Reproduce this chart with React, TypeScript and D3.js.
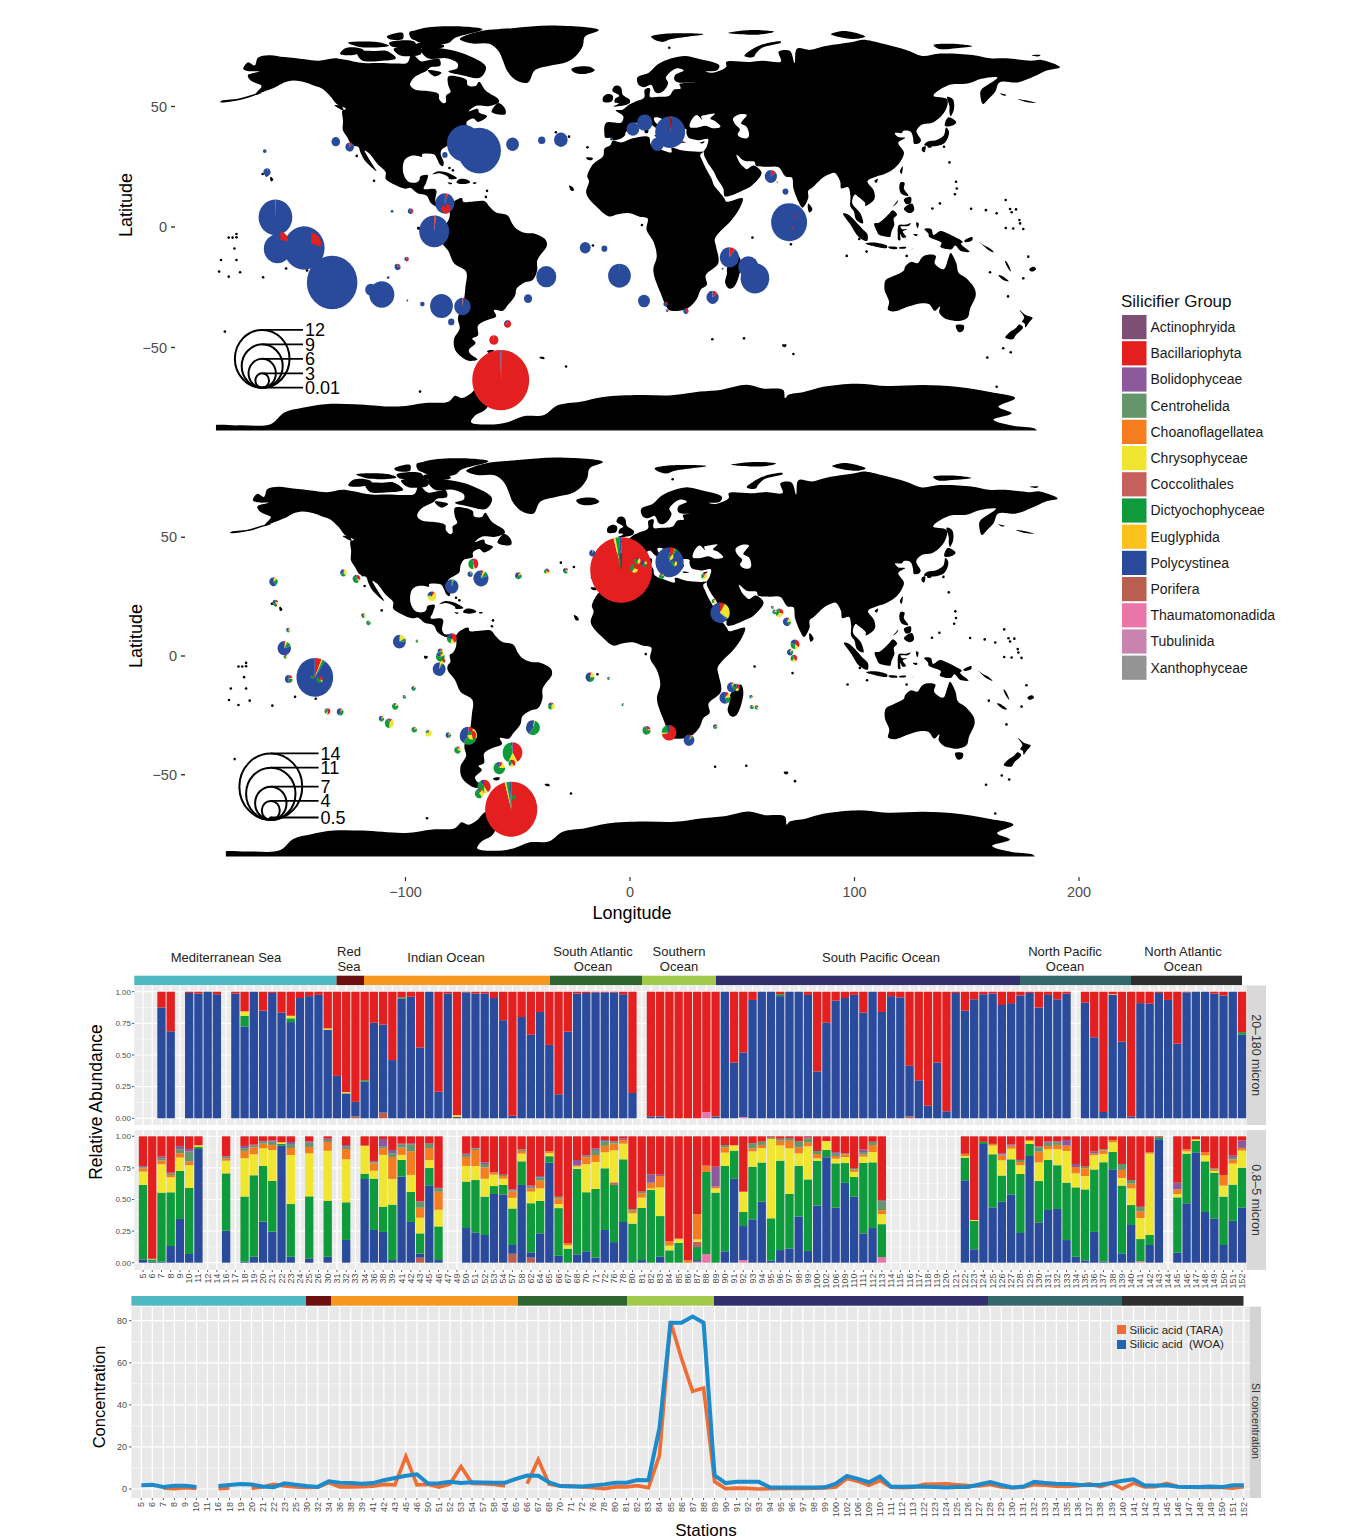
import * as d3 from "d3";

const FONT = '"Liberation Sans", Arial, sans-serif';

// land outlines in [lon, lat]
const landMasses: number[][][] = [
  // North America
  [[-168,65.6],[-166,68.3],[-163,67],[-161.5,70.3],[-156.5,71.3],[-150,70.5],[-141,69.6],[-135,69],[-128,70],[-124,69.5],[-115,68],[-108,68],[-101,67.8],[-96,68.2],[-94,71.8],[-90,68.8],[-85.5,69.5],[-82,69.7],[-81.5,67],[-86,66.2],[-87.5,64.8],[-93,62],[-94.8,59],[-92.5,57],[-88,56.5],[-82.3,55.2],[-82,53],[-80,51.3],[-79,52],[-79,54.5],[-77,56],[-78,58.7],[-78,62.4],[-73.5,62.3],[-70,61],[-69.5,58.8],[-66,58.5],[-64.5,60.3],[-61.5,56.5],[-56,53],[-55.8,51.8],[-60,50.2],[-66,50.2],[-69,48],[-65,49],[-64.5,47.5],[-61,46],[-65,43.6],[-67,45],[-70,43.5],[-70,41.7],[-74,40.5],[-75.5,38],[-76,35.3],[-78,33.9],[-81,32],[-81.3,30],[-80,26.8],[-80.5,25.2],[-81.8,26],[-82.8,28],[-84,30],[-86,30.4],[-89.5,30.2],[-89.5,29.2],[-92,29.6],[-94.8,29.4],[-97.2,27.8],[-97.8,22.5],[-95.5,18.8],[-92,18.5],[-90.7,19.5],[-90.3,21],[-87,21.5],[-87.8,18.3],[-88.8,15.9],[-84,15.8],[-83.2,15],[-83.7,11],[-82.5,9.2],[-80,9.2],[-77.4,8.7],[-77.9,7.2],[-80,7.3],[-81,7.7],[-83,8.3],[-85.7,10],[-87.5,13],[-91.5,14],[-94.5,16.2],[-97,15.9],[-101.5,17.5],[-105.5,20],[-105.5,22.7],[-109,26],[-112.7,30.5],[-114.7,31.7],[-112,27],[-109.5,23.2],[-112,25],[-115,28],[-116.8,31.5],[-117.3,33],[-120.6,34.5],[-122.5,37.5],[-124.3,40.3],[-124.2,44],[-124.5,48.3],[-123,49],[-127,51],[-130,54.5],[-133.5,57.5],[-137,58.7],[-140,59.8],[-146,60.8],[-150,60],[-152,59],[-154,58],[-158,56.5],[-163,54.8],[-160,58.5],[-162,59.5],[-165,61],[-166,63],[-161,64.5],[-166,64.7]],
  // Aleutians
  [[-178,51.8],[-170,52.6],[-163,54.6],[-160,55.5],[-163,55.2],[-170,53.3],[-178,52.2]],
  // South America
  [[-77.4,8.7],[-75.5,10.7],[-72,12],[-71.5,10.5],[-68,10.5],[-62,10.7],[-60,8.5],[-57,6],[-52,4.8],[-50,1.5],[-48,-0.8],[-44,-2.5],[-40,-2.8],[-35.3,-5.3],[-34.8,-8],[-37.5,-11.5],[-39,-14],[-39,-18],[-41,-22],[-44.5,-23],[-48,-25.5],[-48.7,-28.5],[-52,-32.5],[-54,-34.8],[-58,-34.5],[-57,-37],[-62,-39],[-65,-41],[-65,-45],[-67.5,-46.3],[-66,-48],[-69,-51],[-68.5,-52.5],[-65.2,-55],[-69,-55.5],[-72,-54],[-75,-51],[-75.5,-46.5],[-73,-42],[-73.8,-38],[-71.5,-32],[-70.5,-25],[-70.2,-18.5],[-75.5,-15],[-78,-10],[-81.2,-6],[-81.2,-4],[-80,-2.5],[-80.3,0.5],[-78.8,1.5],[-77.5,4],[-77.5,7],[-77.9,7.2]],
  // Greenland
  [[-73,78],[-65,81],[-50,82.5],[-32,83.6],[-12,81.7],[-18,79],[-19,75],[-22,71],[-26,68.5],[-33,67],[-40,65],[-43,60],[-48,60.8],[-52,64.5],[-54,69],[-56,73],[-60,76],[-68,76.2]],
  // Canadian arctic
  [[-90,73.8],[-80,74],[-70,71.5],[-61.5,66.5],[-64,62],[-72,63],[-78,64.5],[-74,66],[-74,68],[-79,70],[-87,70]],
  [[-118,72.5],[-110,73],[-105,73],[-101,70],[-108,68.9],[-116,69.2]],
  [[-90,76.3],[-78,76.3],[-75,78.5],[-63,82],[-72,83.2],[-90,82.3],[-95,80]],
  [[-125.5,71.8],[-123,74.3],[-116,74],[-115,73],[-119,71.5]],
  [[-92,76],[-80,75.5],[-80,74.7],[-92,74.6]],
  [[-122,76.5],[-108,76.6],[-104,75.2],[-116,74.6]],
  [[-104,76.5],[-93,77],[-92,74.7],[-103,75]],
  [[-87,65],[-81,64],[-84,62.5]],
  [[-59,47.7],[-53,46.8],[-53,49],[-56,51.5]],
  [[-95,81],[-87,80.5],[-86,78],[-94,78]],
  [[-105,79],[-98,80.5],[-98,78],[-104,78]],
  [[-102,73.9],[-90,74.2],[-90,71.8],[-99,71.2]],
  [[-128,50.5],[-124,48.4],[-125,50.3]],
  // Africa
  [[-5.9,35.8],[-2,35.1],[3,36.8],[10,37.3],[11,34],[15,32.3],[20,31],[20,32.8],[25,31.7],[32,31.2],[34.2,31.3],[32.6,29.9],[33.5,27.5],[35.5,23.5],[37.3,20.5],[38.8,17],[41,14.5],[43.2,11.8],[44,10.5],[51.2,11.9],[50,8],[46,2.5],[41.5,-1.7],[39,-5],[39.5,-8],[40.5,-15],[35,-20],[35.5,-24],[32.8,-26],[31,-30],[27,-33.8],[20,-34.8],[18.4,-34],[15,-27],[12,-18],[13.5,-12],[12,-6],[9,-1],[9.5,3.5],[6,4.3],[1,5.8],[-4,5.2],[-7.5,4.4],[-13,8.5],[-16.8,12.5],[-17.5,14.7],[-16.2,19],[-17,21],[-14.5,26],[-10,29.5],[-9.5,32.5],[-6.8,34]],
  // Eurasia
  [[-9,37],[-9.5,38.7],[-8.8,43.2],[-2,43.4],[-1.2,46],[-4.5,48.4],[-1.5,48.7],[1.6,50.9],[4,52],[8,53.7],[8.2,57],[10.5,57.5],[10.5,54],[14,54],[19,54.5],[21,57],[24,57.5],[23.5,59.3],[30,60],[23,60],[21.3,61],[21.5,63],[25.3,65],[22,65.8],[17.5,62],[18.5,59.8],[16.5,56.5],[14.3,55.5],[12.8,56],[11,59],[8,58],[5.5,59],[5,62],[10,64],[14,67.5],[20,70],[26,71],[31,70],[41,67],[40,65],[35,64.5],[38,64],[44,66.5],[44,68.5],[54,68.5],[60,69],[68,68.7],[67,72.7],[72,73],[74,68],[75,74],[81,73.5],[87,75],[100,76.9],[104,77.7],[113,76],[123,73.4],[130,71],[138,72],[152,71.4],[160,70],[167,70],[178,69],[182.5,69.3],[190.5,66.3],[185,65],[179,62.4],[172,60],[164,60],[162,56],[159,53],[156.7,51],[155.5,55.5],[156,57],[163,62],[156,61.5],[150,59.5],[142,59],[135,54.5],[141,53],[140,48],[135,43.5],[130,42.5],[127.5,39.8],[129.5,36],[129,35],[126.5,34.5],[126,37],[125,39.5],[122,40],[121,39],[118,39],[119.5,37.3],[122.5,37],[119.5,35],[122,31],[121,28],[118,24.5],[113.5,22],[110,21],[106,19],[108.8,15],[109,11.5],[105,8.7],[105,10],[102,12.5],[100.5,13.5],[99.3,10],[103,5.5],[104,1.5],[101,3],[100,6.5],[98.5,8.5],[98.5,13],[97.5,16.5],[94.5,16],[94,19],[91.5,22.5],[89,21.8],[86.5,20.5],[82,16.5],[80,15],[80,12],[77.5,8],[76,10],[73.5,16],[72.8,20.5],[70,21],[67,24.8],[62,25],[57,25.5],[56.5,27],[52,27.5],[48.5,30],[50,26.5],[51.5,25],[53,24],[56,25.5],[59.5,22.5],[55,17],[52,15.5],[45,12.8],[43.3,12.8],[42.7,16],[40,20],[38.5,23],[36,26.5],[34.9,28.5],[34.4,29.5],[34.2,31.3],[35.5,33.5],[36,36.5],[32,36],[30,36.3],[27.5,37],[26.5,39],[26.5,40.5],[24,40.8],[23,40.3],[24,38],[22.8,36.5],[21.3,37.5],[19.5,41],[19,42.5],[14,45.5],[12.3,45.3],[12.5,44],[14,42.5],[16,41.7],[18.5,40.2],[17,40.4],[16.5,39.5],[16,38],[15.7,40],[12.5,41.5],[10.5,43],[8.8,44.4],[6,43.1],[3.3,43.2],[3,41.8],[0,39.5],[-0.5,38],[-2,36.8],[-5.5,36],[-7,37]],
  // north atlantic and arctic islands
  [[-24,65.5],[-22,66.4],[-16,66.5],[-13.7,65],[-18,63.5],[-22.5,64]],
  [[-5.5,50],[1.4,51.2],[1.7,52.7],[-1.5,55],[-2,57.5],[-3.2,58.6],[-5,58.5],[-6,56.5],[-3,54.5],[-4.8,53.2],[-5,51.7],[-3,51.3]],
  [[-10,52],[-6.2,52.2],[-5.8,54.5],[-8,55.2],[-10,54]],
  [[11,79],[15,80],[27,80.4],[34,80],[20,78],[16,76.8],[12,78]],
  [[45,80.5],[55,81.7],[65,81],[58,79.8]],
  [[52,71],[55,73.5],[60,75.8],[68,77],[68,76.5],[60,74.5],[57,72],[56,70.5]],
  [[90,80],[96,81.3],[105,79],[100,78]],
  [[135,75.5],[143,76],[152,75],[145,74.2],[137,74]],
  [[178,71.3],[182,71.4],[181,70.8]],
  [[141,54],[143.5,53],[144,49],[142.5,46],[142,47.5],[142,50]],
  // east asia and the indonesian arc
  [[140,42],[141.5,45.5],[145,43.5],[143,42]],
  [[130.9,34],[135,33.5],[140,35],[141.8,39.5],[140.5,41.3],[139.5,38],[136,36],[132.5,35.5]],
  [[130,33],[131.5,33.5],[131,31],[130,31.5]],
  [[132.5,34],[134.5,34.2],[134,33],[132.5,33]],
  [[120.2,23],[121.5,25.2],[121,22]],
  [[109,19],[110.5,20],[110,18.3]],
  [[120.5,18.5],[122.3,18.3],[122,16],[124,13],[121,13.7],[120,16]],
  [[122,7.5],[125.5,9.7],[126.5,7],[124.5,5.8]],
  [[122,11.5],[125,12.5],[125,10],[123,9.5]],
  [[117.2,8.5],[119.5,11.2],[119,10]],
  [[95.3,5.6],[97.5,5.2],[104,-1],[106,-3],[105.8,-5.8],[102,-4],[98.5,1]],
  [[105.2,-6.8],[108.5,-6.4],[114.5,-7.7],[114.5,-8.7],[108,-7.8]],
  [[115,-8.3],[119,-8.4],[119,-9],[116,-9]],
  [[119.8,-8.5],[123,-8.3],[122.8,-8.8],[120,-8.9]],
  [[123.6,-10.2],[127,-8.4],[125,-9.5]],
  [[109,1.5],[111,1.8],[113,3.2],[115.5,5.5],[117,7],[119,5.2],[117.5,3.5],[117.8,1],[116.5,-2],[116,-4],[114.5,-4],[111,-3.2],[110,-1.5]],
  [[119.8,0.8],[123,1],[125,1.6],[124,0.4],[120.5,0.2],[121.2,-0.9],[123.3,-0.9],[121.5,-1.9],[123,-4.2],[121.5,-4.5],[120.4,-2.9],[120.4,-5.5],[119.5,-5.4],[119.3,-3.3]],
  [[127.5,2],[128.5,1.5],[128,-0.5],[127.5,0.5]],
  [[126,-3],[128,-3],[127.5,-3.8]],
  [[131,-0.8],[134,-0.8],[135,-3.3],[138,-1.7],[141,-2.6],[145,-4.5],[147.8,-6.2],[147,-7],[150.8,-10.3],[147,-10],[144.5,-7.7],[143,-9.2],[138,-8.2],[138.5,-6.5],[133,-4],[132.8,-2.8]],
  [[148.5,-5.7],[152,-4.2],[152,-5.5],[149,-6.3]],
  [[155,-6],[157,-7.5],[160,-9],[161.5,-10.5],[159,-9.5],[156,-7]],
  [[166.4,-14],[167.5,-15],[169,-18.5],[168,-17.5],[166.8,-15.5]],
  [[163.5,-20],[165,-20.2],[168,-22.5],[166,-22.2]],
  [[177,-17.5],[179,-16.5],[180,-17.5],[178,-18.5]],
  [[164,55.5],[167,54.8],[166,54.5]],
  [[172,53],[176,52.5],[180,51.5],[176,51.8]],
  // indian ocean
  [[49.3,-12],[50.5,-15.5],[47.5,-24.8],[45.2,-25.5],[43.5,-23],[44.3,-19.5],[44.5,-16.5]],
  [[80,9.7],[81.8,7.3],[80.5,6],[79.8,8]],
  [[68.5,-48.8],[70.5,-48.8],[70,-49.8],[68.8,-49.6]],
  // Australia and New Zealand
  [[113.5,-26],[114,-22],[117,-20.5],[122,-18],[122.5,-16.5],[125,-14.5],[128,-15],[130,-12.5],[132.5,-11.5],[136,-12],[135.5,-15],[139.5,-17.5],[141.5,-13],[142.5,-10.8],[145,-15],[146,-19],[149,-21],[153,-25.5],[153.5,-28.5],[151,-34],[150,-37.5],[146,-39],[143.5,-38.8],[140,-38],[137.5,-35.5],[137.8,-33],[135.5,-34.8],[133,-32],[129,-31.7],[124,-33],[118,-35],[115,-34.3],[115.5,-31]],
  [[144.8,-40.8],[148.3,-40.9],[148,-43],[146,-43.6]],
  [[172.7,-34.4],[175.5,-36.5],[178.5,-37.7],[177,-39.5],[175.3,-41.6],[175,-40],[173.8,-39.3],[174.8,-37.5]],
  [[172.7,-40.5],[174.3,-41.7],[171,-45],[170,-46.5],[166.5,-46],[168,-44],[171,-42]],
  // caribbean, atlantic and pacific small islands
  [[-85,21.8],[-82.5,23.1],[-78,22.4],[-74.2,20.2],[-77.7,19.9],[-78,20.7],[-82,22.3]],
  [[-74.4,18.5],[-73,19.9],[-69.9,19.7],[-68.4,18.6],[-71.5,17.8]],
  [[-78.3,18.4],[-76.3,18.2],[-77,17.7]],
  [[-67.2,18.4],[-65.6,18.4],[-65.8,18],[-67.2,18]],
  [[-156,20.8],[-154.8,19.6],[-155.7,18.9],[-156.2,19.7]],
  [[-61,-51.5],[-58,-51.2],[-58.5,-52.2],[-60.5,-52.2]],
  [[-38,-54],[-36,-54],[-35.8,-54.8],[-37.5,-54.6]],
  [[-91.7,0],[-90,-0.3],[-90.5,-1],[-91.5,-1]],
  [[-25,17.2],[-23.5,16.6],[-22.8,15.2],[-24,15]],
  [[-17.5,28.8],[-14.5,28.5],[-15,27.8],[-17,28]],
  [[12.5,38],[15.6,38.2],[15.1,36.7]],
  [[8.2,41],[9.7,41],[9.6,39.1],[8.4,39]],
  [[23.5,35.5],[26.3,35.2],[24,35]],
  [[32.5,35],[34.5,35.6],[33.8,34.7]],
  // Antarctica, cut flat along the bottom of the panel
  [[-182,-86],[-182,-82.8],[-170,-82.3],[-156,-81.8],[-150,-77],[-142,-75],[-132,-73.5],[-119,-73.5],[-100,-74.5],[-88,-73],[-78,-72.5],[-75,-70],[-72,-71],[-68,-69],[-65,-66],[-58,-63.3],[-60,-65],[-62,-67],[-62,-70],[-60,-73],[-62,-76],[-66,-78],[-68,-81],[-60,-82],[-52,-81],[-45,-78.5],[-36,-78],[-30,-74],[-20,-72.5],[-10,-70.5],[6,-69.7],[20,-69.8],[32.5,-68.3],[42,-67.5],[53,-65.5],[60,-67],[69,-67.6],[69.8,-71],[71.2,-69.7],[78,-68.5],[86.6,-66.3],[101,-65],[115,-66],[130.5,-65.6],[145,-66.3],[159.8,-68.5],[170.8,-71],[163.5,-74.6],[169.3,-77.3],[161.3,-80],[170,-82.5],[180,-84],[180,-86]],
];

const inlandSeas: number[][][] = [
  [[28,41.5],[31,41.2],[35,42],[38,41],[41.5,41.6],[39,44],[37,45],[39,47],[35,46.5],[33,46],[33.5,44.5],[31,46.5],[28.5,44]],
  [[47,45],[50,46.8],[53,46.5],[51.5,44.5],[50.5,43],[53,41.5],[54,38],[53,36.8],[50,37.3],[49,38.5],[50,40.5],[48,42.5]],
];

const tinyIslands: number[][] = [
  [19,74.4],[142,26.8],[139.6,33.3],[144.9,18.8],[145.2,16],[144.4,13.6],[134.5,7.7],[137.8,9.8],[151.5,7.6],[158,7],[162.7,5.7],[166.7,11.2],[168.6,7.5],[171.2,7.3],[169.3,6.1],[166.7,-0.4],[170,-0.6],[174.4,-0.8],[172.7,2.9],[173,1.5],[176.6,-12.3],[174.4,-21.3],[159.8,-18.8],[167.7,-28.8],[165.6,-50.3],[168.9,-52],[158.6,-54.2],[96.9,-12],[105.6,-10.2],[123.2,-12],[102.4,-5],[55.5,-4.4],[72.4,-7.2],[37.9,-46.6],[51.8,-46.2],[73.5,-52.7],[162.7,-66.3],
  [-176.1,-43.4],[-174.4,-4.4],[-171,-2.9],[-171.9,-8.9],[-171,-13.7],[-177.8,-13.7],[-178.6,-18.5],[-174.4,-20.6],[-169.4,-18.8],[-159.3,-20.9],[-149.2,-17.2],[-140,-18],[-172.7,-4.4],[-171,-4.3],[-90.4,-68.3],[-26.3,-57.9],[-14.5,-7.7],[7,0.8],[-16.9,33.1],[-110.6,19.2],[-118.2,29.5],[-30.8,39.3],[-25,37.5],[-157.8,21.4],[-159.5,22],[-61,15],[-61.5,12.5],[-77.5,24.5],[-76,23.5],[-119,34],
];

// lon, lat, radius, Bacillariophyta share (the rest is Polycystinea)
const topPies: number[][] = [
  [-127.4,35.4,1.9,0],[-121.3,33.2,1.9,0.1],[-158.6,31.5,0.8,0],[-157.6,22.8,1.6,0.03],[-79.5,29.9,1.2,0],[-71,34.7,7.6,0],[-64.4,31.7,9.5,0],[-49.8,34.3,2.8,0],[-37,36,1.6,0],[-28.6,36.2,3,0],
  [3,40.7,2.8,0],[8.2,43.3,3.4,0],[19.4,39.4,6.6,0.02],[13.8,34.3,2.8,0],[-6.4,36.5,0.6,0],[63.6,21,2.7,0.15],[66.4,18.7,0.3,1],[70,14.7,1.3,0],[71.6,2,7.9,0],[73.9,4.7,0.6,0.7],[73,-0.5,0.6,0.7],
  [45.4,-12.6,4.2,0.1],[42.4,-17.3,0.4,0],[53.7,-16.5,4.4,0],[56.6,-21.3,6.3,0],[38,-29.2,2.7,0.14],[7.9,-30.7,2.6,0],[17.4,-32,1,0.3],[18.1,-34.7,0.6,0.7],[26.3,-34.9,1.2,0.4],
  [-154,4,7.4,0.005],[-153,-9,6,0],[-141.3,-8.7,9,0],[-151.8,-5.4,3.4,0.28],[-138.3,-6.8,4.4,0.3],[-129,-23,11.1,0],[-107.2,-28,5.5,0],[-112,-26,2.5,0],[-102.7,6.5,0.6,0],[-94.6,6.6,1.2,0.4],[-79.5,9.8,4.2,0.05],[-79,7.6,2,0.9],[-84.2,-1.8,6.6,0.02],
  [-96.3,-13.3,1,0.6],[-100.3,-16.6,1.3,0.2],[-104.4,-21,0.6,0],[-96,-30.5,0.4,0],[-89.4,-32,1,0],[-81,-32.8,5,0],[-71.8,-33,3.6,0.05],[-76.7,-39.4,1.4,0],[-35,-20.6,4.4,0],[-43,-29.7,1.8,0],[-52,-40.2,1.6,0.8],[-58,-46.9,2,0.98],[-54.8,-63.5,12.5,0.995],
  [-17.9,-8.6,2.4,0],[-9.5,-9,1.3,0],[-2.9,-20.2,5,0.002],
];

// lon, lat, radius, then shares clockwise from 12: Bacillariophyta, Chrysophyceae, Dictyochophyceae, Polycystinea
const lowPies: number[][] = [
  [-158.8,31.3,1.9,0.05,0.1,0.25,0.6],[-127.6,35,1.5,0.05,0.35,0.3,0.3],[-121.8,32.5,1.7,0.3,0.1,0.5,0.1],[-158,22.4,1.3,0.2,0.2,0.3,0.3],[-152.2,10.9,1,0.1,0.3,0.3,0.3],[-154,3.3,3,0.03,0.05,0.12,0.8],[-153.5,-0.3,0.8,0.2,0.2,0.5,0.1],[-140.4,-9,8.2,0.06,0.01,0.02,0.91],[-141.3,-8.7,1,0.3,0,0.6,0.1],[-138.2,-9.9,1.4,0.3,0.1,0.5,0.1],[-152,-9.7,1.7,0.2,0.05,0.25,0.5],
  [-134.8,-23.3,1.3,0.5,0.1,0.3,0.1],[-129.1,-23.5,1.5,0.1,0.05,0.4,0.45],[-118.7,17,1,0.1,0.3,0.3,0.3],[-116.5,14,1,0.05,0.1,0.7,0.15],[-102.7,6.1,2.9,0.02,0.15,0.08,0.75],[-94.9,6.3,0.6,0.2,0.1,0.6,0.1],[-96.4,-13.6,1,0.1,0.1,0.4,0.4],[-100.5,-17.2,0.8,0.1,0.1,0.6,0.2],[-104.6,-21.2,1.4,0.05,0.15,0.7,0.1],[-110.7,-26.4,1.2,0.1,0.1,0.4,0.4],[-107.2,-28.3,2,0.1,0.4,0.45,0.05],
  [-96.1,-31,1.2,0.1,0.1,0.75,0.05],[-89.8,-32.5,1.4,0.05,0.75,0.15,0.05],[-80.9,-33.3,1.2,0.1,0.1,0.3,0.5],[-72,-33.6,3.8,0.1,0.2,0.3,0.4],[-70.5,-33.3,1.9,0.45,0.3,0.2,0.05],[-76.8,-39.6,1.5,0.1,0.2,0.65,0.05],[-88.2,25.2,2,0.1,0.65,0.05,0.2],[-79.4,29.3,3,0.01,0.01,0.03,0.95],[-69.8,38.8,2.2,0.45,0.05,0.45,0.05],[-71.2,34.5,1.2,0.05,0.05,0.2,0.7],[-66.4,32.7,3.4,0.05,0.05,0.1,0.8],
  [-49.7,33.8,1.5,0.1,0.1,0.4,0.4],[-37.1,35.6,1.2,0.3,0.3,0.3,0.1],[-28.7,35.9,1.2,0.2,0.15,0.35,0.3],[-16.8,43.3,1.4,0.02,0.02,0.06,0.9],[-3.9,36.2,13.8,0.96,0.01,0.02,0.01],[3.3,40.1,1.4,0.1,0.4,0.4,0.1],[6.2,39,1.4,0.1,0.2,0.3,0.4],[1.9,36.9,1.8,0.3,0.3,0.4,0],[17.6,39.5,6.3,0.06,0.01,0.03,0.9],[18.1,41.8,1.2,0.1,0.5,0.3,0.1],[19.7,39,1.3,0.1,0.4,0.45,0.05],[14.1,33.6,1.2,0.1,0.1,0.7,0.1],[33,33.6,1.3,0.1,0.5,0.35,0.05],[37.4,23.1,1,0.1,0.45,0.4,0.05],[40.1,18.2,4.3,0.08,0.27,0.02,0.63],
  [63.5,20.5,0.7,0.1,0.2,0.4,0.3],[64.4,18.6,1,0.1,0.2,0.5,0.2],[66.5,18.2,1.8,0.3,0.3,0.35,0.05],[69.9,14.4,1.8,0.1,0.15,0.15,0.6],[73.5,4.9,2,0.35,0.15,0.3,0.2],[71.3,1.6,1.4,0.05,0.1,0.2,0.65],[73,-1,1.5,0.4,0.2,0.35,0.05],[45.3,-13.2,2.1,0.05,0.05,0.15,0.75],[47.5,-13.2,1.5,0.35,0.2,0.25,0.2],[42.3,-17.6,2.5,0.12,0.12,0.2,0.56],[53.9,-17.2,0.8,0.3,0.2,0.3,0.2],[54.3,-21.5,0.9,0.1,0.1,0.6,0.2],[56.4,-21.6,0.9,0.2,0.2,0.5,0.1],[38,-29.7,1,0.2,0.1,0.35,0.35],[7.4,-31.3,1.8,0.2,0.05,0.7,0.05],[17.4,-32.3,3.3,0.72,0.03,0.2,0.05],[26.3,-35.4,2.4,0.08,0.02,0.05,0.85],
  [-79.4,7.4,2.2,0.4,0.15,0.25,0.2],[-84.5,-0.3,2,0.1,0.1,0.6,0.2],[-85,-5.5,2.9,0.03,0.03,0.04,0.9],[-83.6,-2,1.3,0.4,0.3,0.3,0],[-84.5,2,1.2,0.2,0.1,0.4,0.3],[-17.8,-8.9,2,0.05,0.2,0.25,0.5],[-9.5,-9.4,0.7,0.2,0.2,0.5,0.1],[-3.2,-20.5,0.6,0.2,0.2,0.5,0.1],[-35,-21.1,1.5,0.1,0.4,0.3,0.2],[-43.2,-30.2,3.1,0.03,0.02,0.55,0.4],[-52.3,-40.7,4.4,0.42,0.15,0.4,0.03],[-52.6,-45.2,1.5,0.4,0.2,0.3,0.1],[-58.2,-47.2,2.6,0.1,0.15,0.65,0.1],[-65,-55,2.9,0.4,0.1,0.4,0.1],[-67.1,-57.9,2,0.1,0.3,0.55,0.05],[-52.9,-64.5,11.6,0.96,0.01,0.02,0.01],[-50.9,-60,1.7,0.7,0,0.3,0],
];

const topSizeLegend = [12, 9, 6, 3, 0.01];
const lowSizeLegend = [14, 11, 7, 4, 0.5];

const groups = ["Actinophryida","Bacillariophyta","Bolidophyceae","Centrohelida","Choanoflagellatea","Chrysophyceae","Coccolithales","Dictyochophyceae","Euglyphida","Polycystinea","Porifera","Thaumatomonadida","Tubulinida","Xanthophyceae"];
const groupColors = ["#7d4f74","#e41f20","#8c5a9c","#65956a","#f57d1f","#f0e632","#c6605c","#0f9b3c","#fdc11d","#2a4b9c","#b95f50","#ea75a8","#c884ae","#949494"];

const stations = [
  "5","6","7","8","9","10","11","12","14","16",
  "17","18","19","20","21","22","23","24","25","26",
  "30","31","32","33","34","36","38","39","41","42",
  "43","45","46","47","49","50","51","52","53","54",
  "57","58","62","64","65","66","67","68","70","71",
  "72","76","78","80","81","82","83","84","85","86",
  "87","88","89","90","91","92","93","94","95","96",
  "97","98","99","100","102","106","109","110","111","112",
  "113","114","115","116","117","118","119","120","121","122",
  "123","124","125","126","127","128","129","130","131","132",
  "133","134","135","136","137","138","139","140","141","142",
  "143","144","145","146","147","148","149","150","151","152",
];

// 20-180 micron, null = no sample. Bacillariophyta fills what is left.
const polyA: (number | null)[] = [
  null,null,0.876,0.687,null,0.99,0.985,1,0.98,null,
  0.985,0.725,1,0.85,0.99,0.835,0.76,0.95,0.965,0.975,
  0.7,0.335,0.197,0.115,0.29,0.755,0.695,0.46,0.945,0.96,
  0.56,1,0.21,0.985,0.01,0.995,0.985,0.985,0.95,0.775,
  0.02,0.8,0.66,0.84,0.58,0.19,0.685,0.985,0.99,0.995,
  0.995,0.995,0.98,0.2,null,0.015,0.015,0,0,0,
  0,0,0.01,1,0.44,0.51,0.935,1,1,0.965,
  1,1,0.975,0.37,0.755,0.93,0.95,0.975,0.835,1,
  0.84,0.965,0.955,0.4,0.3,0.1,0.44,0.055,0.99,0.85,
  0.94,0.98,0.985,0.895,0.91,0.97,0.99,0.875,0.975,0.94,
  0.985,null,0.915,0.64,0.05,0.975,0.605,0.015,0.91,0.905,
  0.99,0.935,0.59,0.995,1,1,0.985,0.97,1,0.66,
];
const dictA: Record<string, number> = { 18: 0.085, 23: 0.03, 34: 0.01, 41: 0.01, 89: 0.005, 96: 0.015, 152: 0.02 };
const chrysA: Record<string, number> = { 18: 0.035, 23: 0.02, 30: 0.01, 32: 0.01, 49: 0.015, 138: 0.005 };
const poriferaA: Record<string, number> = { 33: 0.015, 38: 0.045, 116: 0.015 };
const thaumA: Record<string, number> = { 88: 0.05, 92: 0.01 };

// 0.8-5 micron
const polyB = [
  0.026,0.008,0.008,0.132,0.346,0.069,0.897,0,0,0.253,
  0,0.008,0.047,0.325,0.245,0.926,0.047,0,0.034,0,
  0.047,0,0.18,0,0.662,0.259,0.243,0.021,0.681,0.322,
  0.032,0.612,0.021,0,0,0.274,0.237,0.219,0.544,0.538,
  0.069,0.615,0.042,0.232,0.792,0.055,0,0.066,0.09,0.04,
  0.259,0.166,0.322,0,0.021,0,0.047,0,0,0,
  0.013,0,0,0.09,0.66,0.269,0.343,0.483,0.016,0.1,
  0.111,0.364,0.092,0.451,0.834,0.435,0.63,0.522,0.232,0.274,
  0,0,0,0,0,0,0,0,0,0.652,
  0.106,0.939,0.438,0.483,0.538,0.235,0.844,0.319,0.417,0.425,
  0.179,0.047,0.018,0.243,0.01,0.739,0.074,0.298,0,0.14,
  0.976,0,0.079,0.47,0.873,0.401,0.348,0.14,0.33,0.435,
];
const dictB = [
  0.59,0.018,0.546,0.425,0.38,0.522,0.016,0,0,0.454,
  0,0.515,0.644,0.44,0.4,0.013,0.417,0,0.49,0,
  0.443,0,0.298,0,0.042,0.406,0.2,0.438,0.132,0.237,
  0.16,0.137,0.266,0,0,0.367,0.417,0.303,0.063,0.077,
  0.288,0.187,0.388,0.256,0.05,0.377,0.111,0.675,0.467,0.544,
  0.488,0.462,0.496,0.309,0.412,0.575,0.322,0.098,0.158,0,
  0.103,0.649,0.554,0.675,0.222,0.111,0.417,0.309,0.335,0.707,
  0.427,0.4,0.565,0.354,0.058,0.351,0.156,0.156,0.557,0.52,
  0.26,0,0,0,0,0,0,0,0,0.179,
  0.224,0.018,0.42,0.208,0.28,0.467,0.095,0.327,0.396,0.346,
  0.454,0.549,0.562,0.493,0.784,0.137,0.536,0.158,0.174,0.079,
  0.016,0,0.438,0.393,0.09,0.401,0.364,0.383,0.285,0.317,
];
const chrysB = [
  0.105,0.005,0.224,0.119,0.106,0.18,0.013,0,0,0.1,
  0,0.303,0.166,0.14,0.245,0.013,0.388,0,0.34,0,
  0.396,0,0.34,0,0.222,0.063,0.409,0.203,0.04,0.135,
  0.124,0.063,0.132,0,0,0.124,0.111,0.142,0.09,0.05,
  0.084,0.061,0.092,0.1,0.024,0.032,0.026,0.018,0.222,0.214,
  0.127,0.259,0.124,0.082,0.082,0.013,0.227,0.037,0.029,0,
  0.018,0,0.034,0.106,0.042,0.161,0.121,0.113,0.628,0.121,
  0.356,0.1,0.261,0.021,0.071,0.037,0.047,0.04,0.05,0.082,
  0.079,0,0,0,0,0,0,0,0,0.013,
  0.008,0,0.069,0.121,0.084,0.069,0.024,0.148,0.084,0.127,
  0.251,0.111,0.106,0.113,0.066,0.077,0.061,0.132,0.164,0.644,
  0,0,0.026,0.018,0.013,0.047,0.013,0.087,0.166,0.135,
];
const choanoB = [
  0.026,0,0.03,0.018,0.034,0.029,0,0,0,0.018,
  0,0.058,0.055,0.037,0.04,0,0.055,0,0.05,0,
  0.069,0,0.082,0,0,0.058,0.053,0.174,0.058,0.187,
  0.079,0.095,0.142,0,0,0.071,0.127,0.09,0.016,0.021,
  0.05,0.021,0.026,0.061,0.016,0.045,0.016,0.01,0.055,0.055,
  0.05,0.055,0.029,0.021,0.034,0.045,0.09,0.034,0.005,0.021,
  0.2,0.05,0.013,0.042,0,0,0.024,0.026,0,0.037,
  0.058,0.047,0.032,0.034,0,0.021,0.021,0.021,0.018,0.055,
  0.032,0,0,0,0,0,0,0,0,0.018,
  0,0,0.013,0.04,0.024,0.026,0.008,0.084,0.026,0.034,
  0.042,0.05,0.061,0.013,0.026,0.018,0.063,0.037,0.053,0.01,
  0,0,0.037,0.016,0,0.026,0.013,0.084,0.032,0.021,
];
const centroB = [
  0.008,0,0.018,0.013,0.032,0.079,0,0,0,0.013,
  0,0.021,0.013,0.016,0.026,0,0.032,0,0.034,0,
  0.016,0,0.018,0,0,0.008,0.013,0.029,0.026,0.055,
  0.047,0.032,0.026,0,0,0.016,0.013,0.026,0.003,0.01,
  0.008,0.013,0.013,0.026,0,0.013,0,0,0.01,0.04,
  0.037,0.018,0,0.013,0.013,0,0,0,0,0,
  0,0,0,0.018,0,0,0.04,0.026,0.01,0.016,
  0.021,0.047,0.032,0.024,0,0.018,0.005,0.01,0.018,0.026,
  0.071,0,0,0,0,0,0,0,0,0,
  0,0,0,0.005,0,0.016,0,0.034,0.026,0.021,
  0,0,0.013,0,0.01,0,0.047,0.029,0.034,0,
  0,0,0,0,0,0,0.008,0,0.013,0,
];
const bolidoB = [
  0.008,0,0.013,0.005,0.026,0.021,0,0,0,0.005,
  0,0.018,0.008,0.005,0.01,0,0.016,0,0.01,0,
  0.01,0,0.013,0,0,0.008,0.06,0.026,0.005,0.005,
  0.005,0.005,0.005,0,0,0.01,0.003,0.013,0,0,
  0.008,0,0.008,0.01,0,0,0,0.042,0.005,0.013,
  0.01,0,0.013,0,0,0.066,0.01,0,0,0,
  0,0,0.158,0,0,0,0,0,0,0,
  0,0,0.005,0,0,0.013,0.003,0,0.021,0,
  0.008,0,0,0,0,0,0,0,0,0,
  0,0,0,0.01,0.01,0,0,0.008,0.01,0.008,
  0.045,0.024,0,0.016,0,0,0,0,0,0,
  0,0,0.053,0,0,0,0,0,0.018,0.058,
];
const bacillB = [
  0.237,0.97,0.16,0.288,0.076,0.1,0.071,0,0,0.157,
  0,0.076,0.066,0.037,0.032,0.047,0.045,0,0.04,0,
  0.019,0,0.069,0,0.074,0.198,0.021,0.108,0.058,0.058,
  0.513,0.056,0.408,0,0,0.137,0.092,0.206,0.285,0.304,
  0.42,0.103,0.39,0.314,0.117,0.478,0.847,0.187,0.15,0.095,
  0.029,0.04,0.016,0.575,0.438,0.301,0.304,0.83,0.813,0.979,
  0.616,0.232,0.24,0.069,0.071,0.438,0.055,0.042,0.01,0.019,
  0.014,0.04,0.01,0.116,0.037,0.125,0.135,0.251,0.104,0.043,
  0.505,0,0,0,0,0,0,0,0,0.138,
  0.662,0.043,0.06,0.135,0.064,0.187,0.029,0.08,0.041,0.039,
  0.029,0.219,0.24,0.12,0.103,0.029,0.219,0.346,0.549,0.127,
  0.008,0,0.367,0.103,0.024,0.125,0.254,0.306,0.152,0.034,
];
const poriferaB: Record<string, number> = { 43: 0.04, 57: 0.071, 62: 0.04 };
const coccoB: Record<string, number> = { 87: 0.042, 76: 0.02 };
const thaumB: Record<string, number> = { 87: 0.008, 88: 0.069, 92: 0.021, 113: 0.045, 141: 0.01 };

const regionNames = [["Mediterranean Sea"],["Red","Sea"],["Indian Ocean"],["South Atlantic","Ocean"],["Southern","Ocean"],["South Pacific Ocean"],["North Pacific","Ocean"],["North Atlantic","Ocean"]];
const regionColors = ["#4fb9c2","#6b0f0f","#f6971f","#30652f","#a3c94c","#31306c","#34686a","#2e2e2e"];
const regionEdgesBars = [134.3,336.5,364,550,642,716,1020,1131,1242];
const regionEdgesLine = [131.4,306,331,518,627,714,988,1122,1243.5];
const regionLabelX = [226,349,446,593,679,881,1065,1183];

const lineStations = [
  "5","6","7","8","9","10","11","16","18","19",
  "20","21","22","23","25","30","32","34","36","38",
  "39","41","42","43","45","46","50","51","52","53",
  "54","57","58","64","65","66","67","68","70","71",
  "72","76","78","80","81","82","83","84","85","86",
  "87","88","89","90","91","92","93","94","95","96",
  "97","98","99","100","102","106","109","110","111","112",
  "113","122","123","124","125","126","127","128","129","130",
  "131","132","133","134","135","136","137","138","139","140",
  "141","142","143","145","146","147","148","149","150","151","152",
];
const siTara: (number | null)[] = [
  null,null,0.5,0.2,0.6,0.3,null,0.2,0.5,null,
  0.3,1,2.2,1.5,1,0.7,0.8,3,1,1,
  1.1,1.3,2.2,2,15.5,2,2.2,0.9,2.4,10.7,
  2.6,2.5,2.2,1.5,null,2.5,14,2.3,1.4,1.5,
  1,0.6,0.2,1,1,1.6,0.6,16,79.5,62,
  46.5,48,3.5,0.2,0.4,0.3,0,0.1,0.3,0.3,
  0.3,0.4,0.5,0.9,5,3.7,1.8,4,0.8,0.6,
  0.8,2.2,2.3,2.5,2,1.6,1.5,2.1,1,0.6,
  0.9,2.1,1.8,1.3,1.2,1.6,2.4,1.1,2.8,0.1,
  2.8,1,1.1,2.7,1.2,0.9,0.7,0.7,0.7,0.4,1.1,
];
const siWoa: (number | null)[] = [
  1.8,2,1,1.5,1.6,1,null,1.4,1.9,2.4,
  2.1,1.2,0.9,2.7,2,1.4,1,3.7,3,2.8,
  2.5,2.8,4.2,5.2,6.3,7,2.6,2.7,3.4,2.8,
  3.2,3.1,3,3,4.8,6.4,6.3,3.1,1.4,1.2,
  1.2,1.7,2.2,3,3,4.3,4.2,29,79,79,
  82,79,6.5,2.8,3.4,3.4,3.4,0.8,0.7,0.7,
  0.7,0.7,0.8,2.5,6.2,4.8,3.2,6,1.1,1.1,
  1.2,1.1,0.9,0.7,0.9,1,2.1,3.3,1.9,0.7,
  1.2,3.4,2.9,2.5,2.4,2,1.9,2,2.9,3.9,
  4.6,1.7,1.7,1.8,1.1,1,0.9,1.2,0.9,1.8,1.8,
];

const lat2Ticks = [50, 0, -50];
const lonTicks = [-100, 0, 100, 200];
const relTicks = [0, 0.25, 0.5, 0.75, 1];
const concTicks = [0, 20, 40, 60, 80];

const minus = (v: number) => (v < 0 ? "\u2212" + Math.abs(v) : String(v));

const arcUnit = d3.arc<d3.PieArcDatum<number>>().innerRadius(0).outerRadius(1);
const pieGen = d3.pie<number>().sort(null).value((d) => d);

interface MapProps {
  id: string;
  x: d3.ScaleLinear<number, number>;
  y: d3.ScaleLinear<number, number>;
  pies: { lon: number; lat: number; r: number; shares: number[] }[];
  shareColors: string[];
  sizes: number[];
  sizeLon: number;
  sizeBottomLat: number;
  lineEndX: number;
  tickX: number;
  labelX: number;
}

function WorldMap({ id, x, y, pies, shareColors, sizes, sizeLon, sizeBottomLat, lineEndX, tickX, labelX }: MapProps) {
  const line = d3
    .line<number[]>()
    .x((d) => x(d[0]))
    .y((d) => y(d[1]))
    .curve(d3.curveCatmullRomClosed.alpha(0.5));
  const sx = Math.abs(x(1) - x(0));
  const sy = Math.abs(y(1) - y(0));
  const sorted = [...pies].sort((a, b) => d3.descending(a.r, b.r));
  return (
    <g>
      <clipPath id={id}>
        <rect x={x(-180)} y={y(86)} width={x(192) - x(-180)} height={y(-84.4) - y(86)} />
      </clipPath>
      <g clipPath={`url(#${id})`}>
        {landMasses.map((d, i) => <path key={i} d={line(d) as string} fill="#000" />)}
        {inlandSeas.map((d, i) => <path key={i} d={line(d) as string} fill="#fff" />)}
        {tinyIslands.map((d, i) => <circle key={i} cx={x(d[0])} cy={y(d[1])} r={1.3} fill="#000" />)}
      </g>
      <line x1={x(-158)} x2={x(180)} y1={y(-84.4)} y2={y(-84.4)} stroke="#8a8a8a" strokeWidth={0.8} />
      {sorted.map((p, i) => (
        <g key={i} transform={`translate(${x(p.lon)},${y(p.lat)}) scale(${p.r * sx},${p.r * sy})`}>
          {pieGen(p.shares).map((s, j) => (
            <path key={j} d={arcUnit(s) as string} fill={shareColors[j]} />
          ))}
        </g>
      ))}
      {sizes.map((r, i) => {
        const cy = y(sizeBottomLat + r);
        const topY = y(sizeBottomLat + 2 * r);
        return (
          <g key={i}>
            <ellipse cx={x(sizeLon)} cy={cy} rx={r * sx} ry={r * sy} fill="none" stroke="#000" strokeWidth={2} />
            <line x1={x(sizeLon)} x2={lineEndX} y1={topY} y2={topY} stroke="#000" strokeWidth={1.8} />
            <text x={lineEndX + 2} y={topY + 6.5} fontSize={18} fontFamily={FONT} fill="#000">{r}</text>
          </g>
        );
      })}
      {lat2Ticks.map((t) => (
        <g key={t}>
          <line x1={tickX} x2={tickX + 4} y1={y(t)} y2={y(t)} stroke="#333" strokeWidth={1.4} />
          <text x={labelX} y={y(t) + 5} textAnchor="end" fontSize={14.5} fontFamily={FONT} fill="#4d4d4d">{minus(t)}</text>
        </g>
      ))}
    </g>
  );
}

type Row = Record<string, number | string>;

function StackPanel({ rows, top, bottom, panelTop, panelBottom, strip }: { rows: Row[]; top: number; bottom: number; panelTop: number; panelBottom: number; strip: string }) {
  const x = d3.scalePoint<string>().domain(stations).range([143, 1242]);
  const y = d3.scaleLinear().domain([0, 1]).range([bottom, top]);
  const keys = [...groups].reverse();
  const layers = d3.stack<Row>().keys(keys).value((d, k) => (d[k] as number) || 0).offset(d3.stackOffsetExpand)(rows);
  const barW = 8.3;
  const minor = [0.125, 0.375, 0.625, 0.875];
  return (
    <g>
      <rect x={134.3} y={panelTop} width={1112.7} height={panelBottom - panelTop} fill="#ebebeb" />
      {minor.map((t) => <line key={t} x1={134.3} x2={1247} y1={y(t)} y2={y(t)} stroke="#fff" strokeWidth={0.5} />)}
      {relTicks.map((t) => <line key={t} x1={134.3} x2={1247} y1={y(t)} y2={y(t)} stroke="#fff" strokeWidth={1.2} />)}
      {stations.map((s) => <line key={s} x1={x(s)} x2={x(s)} y1={panelTop} y2={panelBottom} stroke="#fff" strokeWidth={1.2} />)}
      {layers.map((layer) => (
        <g key={layer.key} fill={groupColors[groups.indexOf(layer.key)]}>
          {layer.map((seg, i) =>
            seg[1] - seg[0] > 0 ? (
              <rect key={i} x={(x(stations[i]) as number) - barW / 2} y={y(seg[1])} width={barW} height={y(seg[0]) - y(seg[1])} />
            ) : null
          )}
        </g>
      ))}
      {relTicks.map((t) => (
        <g key={t}>
          <line x1={132} x2={134.3} y1={y(t)} y2={y(t)} stroke="#333" strokeWidth={0.8} />
          <text x={131} y={y(t) + 2.8} textAnchor="end" fontSize={8} fontFamily={FONT} fill="#4d4d4d">{d3.format(".2f")(t)}</text>
        </g>
      ))}
      <rect x={1247} y={panelTop} width={19} height={panelBottom - panelTop} fill="#d9d9d9" />
      <text transform={`translate(1252,${(panelTop + panelBottom) / 2}) rotate(90)`} textAnchor="middle" fontSize={12.4} fontFamily={FONT} fill="#333">{strip}</text>
    </g>
  );
}

const rowsA: Row[] = stations.map((s, i) => {
  const p = polyA[i];
  const row: Row = { station: s };
  if (p === null) return row;
  const d = dictA[s] || 0;
  const c = chrysA[s] || 0;
  const po = poriferaA[s] || 0;
  const th = thaumA[s] || 0;
  row.Polycystinea = p;
  row.Dictyochophyceae = d;
  row.Chrysophyceae = c;
  row.Porifera = po;
  row.Thaumatomonadida = th;
  row.Bacillariophyta = Math.max(0, 1 - p - d - c - po - th);
  return row;
});

const rowsB: Row[] = stations.map((s, i) => ({
  station: s,
  Polycystinea: polyB[i],
  Dictyochophyceae: dictB[i],
  Chrysophyceae: chrysB[i],
  Choanoflagellatea: choanoB[i],
  Centrohelida: centroB[i],
  Bolidophyceae: bolidoB[i],
  Bacillariophyta: bacillB[i],
  Porifera: poriferaB[s] || 0,
  Coccolithales: coccoB[s] || 0,
  Thaumatomonadida: thaumB[s] || 0,
}));

export default function App() {
  const topX = d3.scaleLinear().domain([0, 100]).range([626, 853.8]);
  const topY = d3.scaleLinear().domain([0, 50]).range([227, 106.5]);
  const lowX = d3.scaleLinear().domain([0, 100]).range([630, 854.5]);
  const lowY = d3.scaleLinear().domain([0, 50]).range([656, 537.25]);

  const topPieData = topPies.map((d) => ({ lon: d[0], lat: d[1], r: d[2], shares: [d[3], 1 - d[3]] }));
  const lowPieData = lowPies.map((d) => ({ lon: d[0], lat: d[1], r: d[2], shares: d.slice(3) }));
  const redColor = groupColors[groups.indexOf("Bacillariophyta")];
  const blueColor = groupColors[groups.indexOf("Polycystinea")];
  const yellowColor = groupColors[groups.indexOf("Chrysophyceae")];
  const greenColor = groupColors[groups.indexOf("Dictyochophyceae")];

  const lx = d3.scalePoint<string>().domain(lineStations).range([141.3, 1243.8]);
  const ly = d3.scaleLinear().domain([0, 80]).range([1489, 1320.7]);
  const siLine = d3
    .line<number | null>()
    .defined((d) => d !== null)
    .x((_, i) => lx(lineStations[i]) as number)
    .y((d) => ly(d as number));

  return (
    <svg width={1363} height={1540} style={{ position: "absolute", left: 0, top: 0, background: "#fff" }}>
      {/* maps */}
      <WorldMap id="clipTop" x={topX} y={topY} pies={topPieData} shareColors={[redColor, blueColor]} sizes={topSizeLegend} sizeLon={-159.7} sizeBottomLat={-66.7} lineEndX={303} tickX={171} labelX={167} />
      <WorldMap id="clipLow" x={lowX} y={lowY} pies={lowPieData} shareColors={[redColor, yellowColor, greenColor, blueColor]} sizes={lowSizeLegend} sizeLon={-160} sizeBottomLat={-69} lineEndX={318.6} tickX={181} labelX={177} />
      <text transform="translate(132,205) rotate(-90)" textAnchor="middle" fontSize={18} fontFamily={FONT}>Latitude</text>
      <text transform="translate(142,636) rotate(-90)" textAnchor="middle" fontSize={18} fontFamily={FONT}>Latitude</text>
      {lonTicks.map((t) => (
        <g key={t}>
          <line x1={lowX(t)} x2={lowX(t)} y1={877} y2={881} stroke="#333" strokeWidth={1.2} />
          <text x={lowX(t)} y={897} textAnchor="middle" fontSize={14.5} fontFamily={FONT} fill="#4d4d4d">{minus(t)}</text>
        </g>
      ))}
      <text x={632} y={919} textAnchor="middle" fontSize={18} fontFamily={FONT}>Longitude</text>

      {/* legend */}
      <text x={1121} y={307} fontSize={17} fontFamily={FONT} fill="#111">Silicifier Group</text>
      {groups.map((g, i) => (
        <g key={g} transform={`translate(1122,${315 + i * 26.2})`}>
          <rect width={24.5} height={24.2} fill={groupColors[i]} />
          <text x={28.5} y={17} fontSize={14} fontFamily={FONT} fill="#1a1a1a">{g}</text>
        </g>
      ))}

      {/* region headers */}
      {regionNames.map((lines, i) => (
        <text key={i} textAnchor="middle" fontSize={13} fontFamily={FONT} fill="#222">
          {lines.map((t, j) => (
            <tspan key={j} x={regionLabelX[i]} y={lines.length === 1 ? 962 : 955.5 + j * 15.8}>{t}</tspan>
          ))}
        </text>
      ))}
      {regionColors.map((c, i) => (
        <g key={c}>
          <rect x={regionEdgesBars[i]} y={975.7} width={regionEdgesBars[i + 1] - regionEdgesBars[i]} height={9.5} fill={c} />
          <rect x={regionEdgesLine[i]} y={1296} width={regionEdgesLine[i + 1] - regionEdgesLine[i]} height={9.7} fill={c} />
        </g>
      ))}

      {/* stacked bars */}
      <StackPanel rows={rowsA} top={991.7} bottom={1118.3} panelTop={985.5} panelBottom={1125} strip={"20\u2013180 micron"} />
      <StackPanel rows={rowsB} top={1136.3} bottom={1262.7} panelTop={1130} panelBottom={1270} strip={"0.8\u20135 micron"} />
      <text transform="translate(102,1102) rotate(-90)" textAnchor="middle" fontSize={17.5} fontFamily={FONT}>Relative Abundance</text>
      {stations.map((s, i) => {
        const cx = 143 + (i * 1099) / (stations.length - 1);
        return (
          <g key={s}>
            <line x1={cx} x2={cx} y1={1270} y2={1272} stroke="#333" strokeWidth={0.8} />
            <text transform={`translate(${cx + 3},1273.5) rotate(-90)`} textAnchor="end" fontSize={9} fontFamily={FONT} fill="#4d4d4d">{s}</text>
          </g>
        );
      })}

      {/* silicic acid */}
      <rect x={131.4} y={1306.7} width={1118.6} height={191.3} fill="#e8e8e8" />
      {d3.range(10, 90, 20).map((t) => <line key={t} x1={131.4} x2={1250} y1={ly(t)} y2={ly(t)} stroke="#fff" strokeWidth={0.6} />)}
      {concTicks.map((t) => <line key={t} x1={131.4} x2={1250} y1={ly(t)} y2={ly(t)} stroke="#fff" strokeWidth={1.2} />)}
      {lineStations.map((s) => <line key={s} x1={lx(s)} x2={lx(s)} y1={1306.7} y2={1498} stroke="#fff" strokeWidth={1.2} />)}
      <path d={siLine(siTara) as string} fill="none" stroke="#ef6c33" strokeWidth={3.6} />
      <path d={siLine(siWoa) as string} fill="none" stroke="#1b8bcb" strokeWidth={4} />
      {concTicks.map((t) => (
        <g key={t}>
          <line x1={129} x2={131.4} y1={ly(t)} y2={ly(t)} stroke="#333" strokeWidth={0.8} />
          <text x={127} y={ly(t) + 3.2} textAnchor="end" fontSize={9} fontFamily={FONT} fill="#4d4d4d">{t}</text>
        </g>
      ))}
      {lineStations.map((s) => (
        <g key={s}>
          <line x1={lx(s)} x2={lx(s)} y1={1498} y2={1500} stroke="#333" strokeWidth={0.8} />
          <text transform={`translate(${(lx(s) as number) + 3},1502) rotate(-90)`} textAnchor="end" fontSize={9} fontFamily={FONT} fill="#4d4d4d">{s}</text>
        </g>
      ))}
      <rect x={1250} y={1306.7} width={11} height={191.3} fill="#d3d3d3" />
      <text transform="translate(1251.5,1421) rotate(90)" textAnchor="middle" fontSize={10.5} fontFamily={FONT} fill="#333">SI concentration</text>
      <rect x={1117} y={1325} width={9} height={9} fill="#ef6c33" />
      <rect x={1117} y={1340} width={9} height={9} fill="#2166b5" />
      <text x={1129.5} y={1334} fontSize={11.4} fontFamily={FONT} fill="#222">Silicic acid (TARA)</text>
      <text x={1129.5} y={1348} fontSize={11.4} fontFamily={FONT} fill="#222" style={{ whiteSpace: "pre" }}>{"Silicic acid  (WOA)"}</text>
      <text transform="translate(105,1397) rotate(-90)" textAnchor="middle" fontSize={16.5} fontFamily={FONT}>Concentration</text>
      <text x={706} y={1536} textAnchor="middle" fontSize={17} fontFamily={FONT}>Stations</text>
    </svg>
  );
}
